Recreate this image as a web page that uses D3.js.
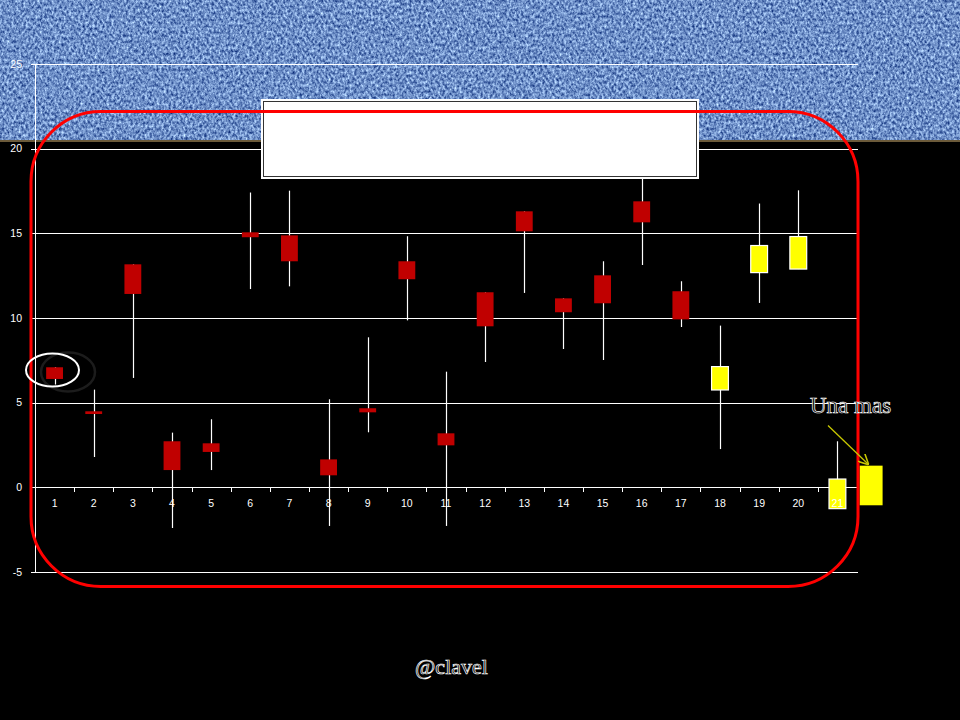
<!DOCTYPE html>
<html><head><meta charset="utf-8">
<script src="https://cdn.jsdelivr.net/npm/d3@7/dist/d3.min.js"></script>
<style>html,body{margin:0;padding:0;background:#000;}svg{display:block;}</style>
</head><body>
<script>
const categories = ["1","2","3","4","5","6","7","8","9","10","11","12","13","14","15","16","17","18","19","20","21"];
const openVals  = [7.09,4.49,13.17,2.72,2.60,15.06,14.88,1.65,4.67,13.35,3.19,11.52,16.30,11.16,12.52,16.89,11.58,5.75,12.68,12.89,-1.26];
const highVals  = [7.10,5.77,13.17,3.23,4.02,17.41,17.52,5.20,8.86,14.83,6.83,11.52,16.30,11.16,13.35,18.60,12.17,9.55,16.76,17.54,2.72];
const lowVals   = [6.07,1.79,6.46,-2.40,1.02,11.71,11.87,-2.28,3.25,9.86,-2.28,7.40,11.48,8.17,7.52,13.13,9.47,2.26,10.89,12.89,-1.26];
const closeVals = [6.40,4.33,11.42,1.02,2.09,14.77,13.35,0.71,4.43,12.29,2.48,9.51,15.12,10.34,10.87,15.65,9.92,7.13,14.28,14.81,0.49];
const extraCandle = {open: -1.06, close: 1.28};
const yTicks = [-5,0,5,10,15,20,25];
const annotationText = "Una mas";
const footerText = "@clavel";

const W = 960, H = 720;
const svg = d3.select("body").append("svg").attr("width", W).attr("height", H);
const defs = svg.append("defs");
const f = defs.append("filter").attr("id","denim").attr("filterUnits","userSpaceOnUse")
  .attr("x",0).attr("y",0).attr("width",960).attr("height",141)
  .attr("color-interpolation-filters","sRGB");
f.append("feTurbulence").attr("type","fractalNoise").attr("baseFrequency","0.42 0.32").attr("numOctaves",3).attr("seed",7);
f.append("feColorMatrix").attr("type","matrix")
  .attr("values","1.0 0 0 0 -0.07  1.0 0 0 0 0.06  0.8 0 0 0 0.38  0 0 0 0 1");

svg.append("rect").attr("width",W).attr("height",H).attr("fill","#000");
svg.append("rect").attr("x",0).attr("y",0).attr("width",W).attr("height",141).attr("filter","url(#denim)");
svg.append("rect").attr("x",0).attr("y",140).attr("width",W).attr("height",2).attr("fill","#6b5a3a");

const data = categories.map((c,i)=>({cat:c, open:openVals[i], high:highVals[i], low:lowVals[i], close:closeVals[i]}));

const x = d3.scaleBand().domain(categories).range([35, 857]).paddingInner(0).paddingOuter(0);
const y = d3.scaleLinear().domain([-5, 25]).range([572, 64]);
const bw = x.bandwidth()*0.43;

svg.append("g").selectAll("line").data(yTicks).join("line")
  .attr("x1",31).attr("x2",858).attr("y1",d=>Math.round(y(d))+0.5).attr("y2",d=>Math.round(y(d))+0.5)
  .attr("stroke","#fff").attr("stroke-width",1);
svg.append("g").selectAll("text").data(yTicks).join("text")
  .attr("x",22).attr("y",d=>y(d)).attr("dy","0.35em").attr("text-anchor","end")
  .attr("fill","#fff").attr("font-family","Liberation Sans, Arial, sans-serif").attr("font-size",10.5)
  .text(d=>d);
svg.append("line").attr("x1",35.5).attr("x2",35.5).attr("y1",y(25)).attr("y2",y(-5)).attr("stroke","#fff");
const bounds = categories.map(c=>x(c)).concat([x(categories[categories.length-1])+x.step()]);
svg.append("g").selectAll("line").data(bounds).join("line")
  .attr("x1",d=>Math.round(d)+0.5).attr("x2",d=>Math.round(d)+0.5)
  .attr("y1",Math.round(y(0))).attr("y2",Math.round(y(0))+5).attr("stroke","#fff");

const g = svg.append("g");
g.selectAll("line.wick").data(data).join("line").attr("class","wick")
  .attr("x1",d=>Math.round(x(d.cat)+x.bandwidth()/2)+0.5).attr("x2",d=>Math.round(x(d.cat)+x.bandwidth()/2)+0.5)
  .attr("y1",d=>y(d.high)).attr("y2",d=>y(d.low)).attr("stroke","#fff").attr("stroke-width",1.2);
g.selectAll("rect.body").data(data).join("rect").attr("class","body")
  .attr("x",d=>x(d.cat)+x.bandwidth()/2-bw/2).attr("width",bw)
  .attr("y",d=>y(Math.max(d.open,d.close))).attr("height",d=>Math.max(2,Math.abs(y(d.open)-y(d.close))))
  .attr("fill",d=>d.close<d.open?"#c00000":"#ffff00")
  .attr("stroke",d=>d.close<d.open?"none":"#fff").attr("stroke-width",1.2);

svg.append("g").selectAll("text").data(categories).join("text")
  .attr("x",d=>x(d)+x.bandwidth()/2).attr("y",y(0)+16).attr("dy","0.35em").attr("text-anchor","middle")
  .attr("fill","#fff").attr("font-family","Liberation Sans, Arial, sans-serif").attr("font-size",10.5)
  .text(d=>d);

const exX = x("21") + x.bandwidth()/2 + x.step()*0.86;
const exW = 23;
svg.append("rect").attr("x",exX-exW/2).attr("y",y(extraCandle.close)).attr("width",exW)
  .attr("height",y(extraCandle.open)-y(extraCandle.close)).attr("fill","#ffff00");

svg.append("rect").attr("x",261).attr("y",99).attr("width",438).attr("height",80).attr("fill","#fff");
svg.append("rect").attr("x",263.5).attr("y",101.5).attr("width",433).attr("height",75)
  .attr("fill","none").attr("stroke","#333").attr("stroke-width",1);

svg.append("rect").attr("x",31).attr("y",111.5).attr("width",827).attr("height",475).attr("rx",70).attr("ry",70)
  .attr("fill","none").attr("stroke","#ff0000").attr("stroke-width",3);

svg.append("ellipse").attr("cx",68).attr("cy",372).attr("rx",27).attr("ry",19.5)
  .attr("fill","none").attr("stroke","#1c1c1c").attr("stroke-width",2.5);
svg.append("ellipse").attr("cx",52.5).attr("cy",370).attr("rx",26.5).attr("ry",16.5)
  .attr("fill","none").attr("stroke","#fff").attr("stroke-width",2);

defs.append("marker").attr("id","arr").attr("viewBox","0 0 10 10").attr("refX",9).attr("refY",5)
  .attr("markerWidth",8).attr("markerHeight",8).attr("orient","auto")
  .append("path").attr("d","M0,0 L10,5 L0,10").attr("fill","none").attr("stroke","#c8c800").attr("stroke-width",1.5);
svg.append("line").attr("x1",828).attr("y1",425.5).attr("x2",868).attr("y2",464)
  .attr("stroke","#c8c800").attr("stroke-width",1.3).attr("marker-end","url(#arr)");

svg.append("text").attr("x",810).attr("y",413).attr("font-family","Liberation Serif, Times New Roman, serif")
  .attr("font-size",23).attr("fill","#000").attr("stroke","#fff").attr("stroke-width",0.7)
  .text(annotationText);

svg.append("text").attr("x",451.5).attr("y",674).attr("text-anchor","middle")
  .attr("font-family","Liberation Serif, Times New Roman, serif")
  .attr("font-size",22).attr("fill","#000").attr("stroke","#fff").attr("stroke-width",0.7)
  .text(footerText);
</script>
</body></html>
